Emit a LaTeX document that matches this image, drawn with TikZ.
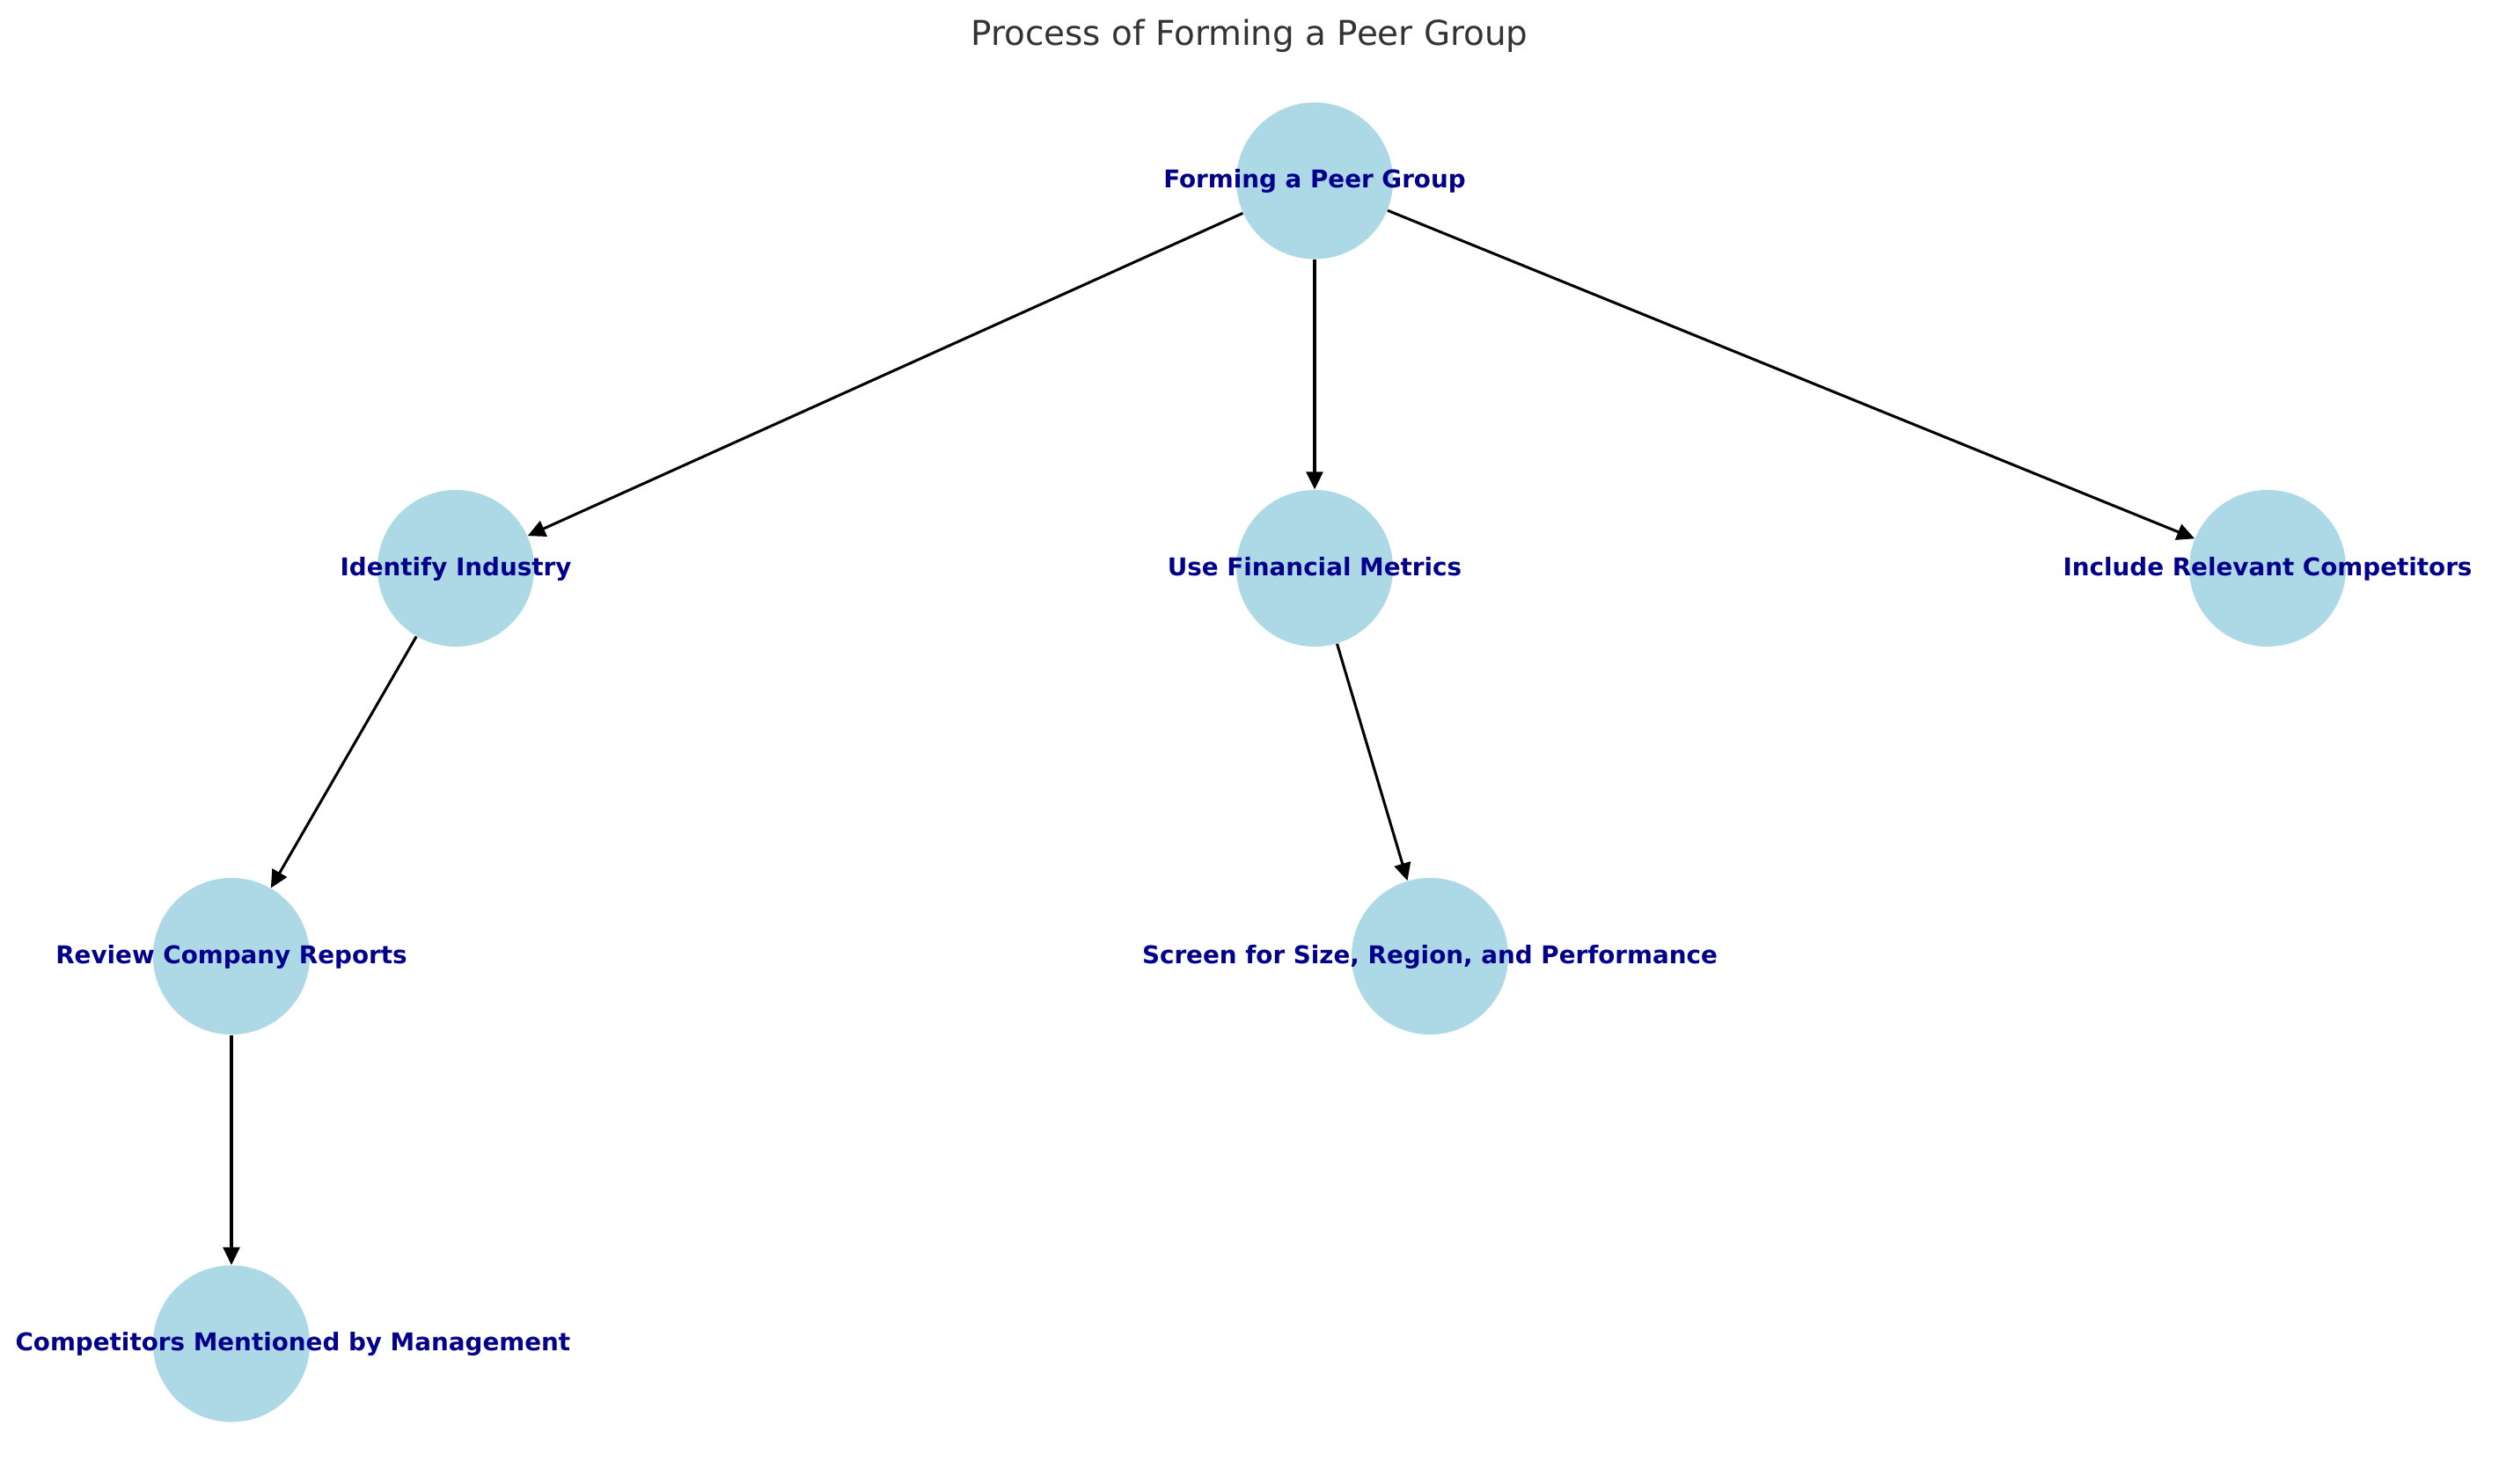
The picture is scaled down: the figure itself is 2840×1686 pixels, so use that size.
\documentclass[tikz,border=0pt]{standalone}
\usepackage{fontspec}
\setmainfont{DejaVu Sans}
\usetikzlibrary{arrows.meta}
\definecolor{nodeblue}{HTML}{ADD8E6}
\definecolor{labelblue}{HTML}{00008B}
\definecolor{titlegray}{HTML}{333333}
\tikzset{
  peer/.style={circle, fill=nodeblue, draw=none, minimum size=64.1bp, inner sep=0pt},
  lbl/.style={font=\fontsize{10bp}{12bp}\selectfont\bfseries, text=labelblue, inner sep=0pt, anchor=base},
  edge/.style={draw=black, line width=1.1bp, -{Triangle[length=7.2bp, width=6.8bp]}},
}
\begin{document}
\begin{tikzpicture}[x=0.36bp, y=-0.36bp]
\useasboundingbox (0,0) rectangle (2840,1686);
\fill[white] (0,0) rectangle (2840,1686);
\node[font=\fontsize{14bp}{16bp}\selectfont, text=titlegray, anchor=base, inner sep=0pt] (title) at (1420,51) {Process of Forming a Peer Group};
% circles
\node[peer] (root) at (1494,205.5) {};
\node[peer] (ind) at (518,646) {};
\node[peer] (fin) at (1494,646) {};
\node[peer] (comp) at (2577,646) {};
\node[peer] (rev) at (263,1087) {};
\node[peer] (scr) at (1625,1087) {};
\node[peer] (mgmt) at (263,1527.5) {};
% edges
\draw[edge] (root) -- (ind);
\draw[edge] (root) -- (fin);
\draw[edge] (root) -- (comp);
\draw[edge] (ind) -- (rev);
\draw[edge] (fin) -- (scr);
\draw[edge] (rev) -- (mgmt);
% labels (baseline 8px below the circle centre)
\node[lbl] (lroot) at ([yshift=-2.88bp]root.center) {Forming a Peer Group};
\node[lbl] (lind) at ([yshift=-2.88bp]ind.center) {Identify Industry};
\node[lbl] (lfin) at ([yshift=-2.88bp]fin.center) {Use Financial Metrics};
\node[lbl] (lcomp) at ([yshift=-2.88bp]comp.center) {Include Relevant Competitors};
\node[lbl] (lrev) at ([yshift=-2.88bp]rev.center) {Review Company Reports};
\node[lbl] (lscr) at ([yshift=-2.88bp]scr.center) {Screen for Size, Region, and Performance};
\node[lbl, anchor=base west] (lmgmt) at ([yshift=-2.88bp]mgmt.center -| 17,0) {Competitors Mentioned by Management};
\end{tikzpicture}
\end{document}
